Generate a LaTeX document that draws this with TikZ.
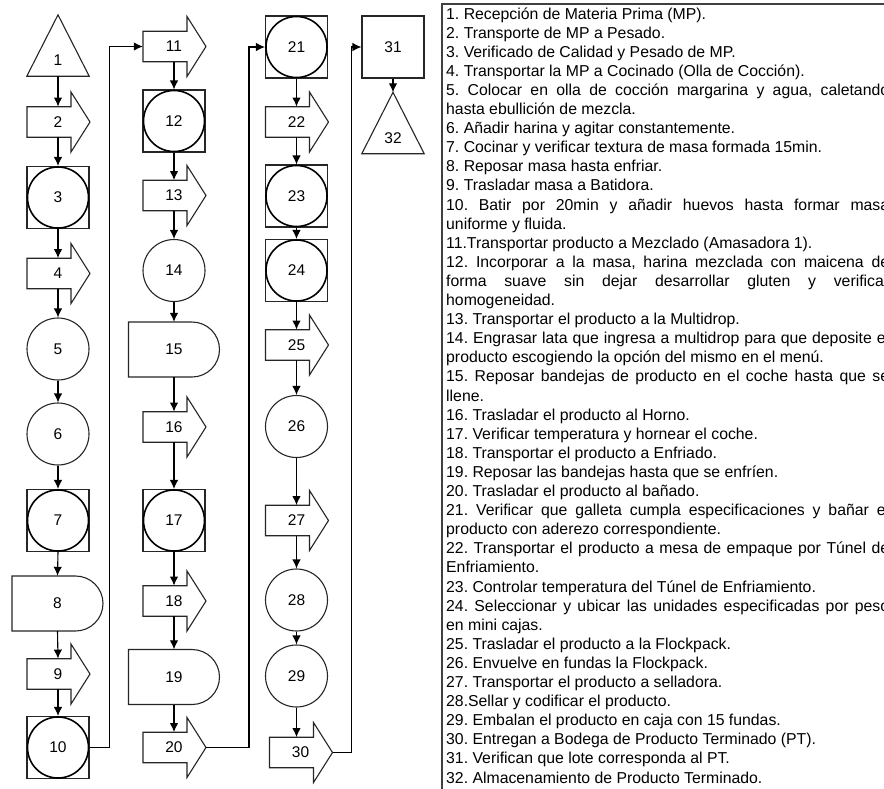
\documentclass[tikz,border=0pt]{standalone}
\usepackage{fontspec}
\setmainfont{Liberation Sans}
\usetikzlibrary{arrows.meta}

% transport step: arrow-shaped outline around a body-sized node
\newcommand{\transport}[3]{%
  \node[tbody] (#1) at (#2) {#3};
  \coordinate (#1-tip) at ([shift={(32,0)}]#1.center);
  \draw[outline] ([shift={(-31,-15.25)}]#1.center) -- ([shift={(13,-15.25)}]#1.center)
    -- ([shift={(13,-30)}]#1.center) -- (#1-tip) -- ([shift={(13,30)}]#1.center)
    -- ([shift={(13,15.25)}]#1.center) -- ([shift={(-31,15.25)}]#1.center) -- cycle;}
% delay step: D-shaped outline
\newcommand{\delaybox}[3]{%
  \node[dbody] (#1) at (#2) {#3};
  \draw[outline] ([shift={(-45.5,-27.5)}]#1.center) -- ([shift={(18,-27.5)}]#1.center)
    .. controls ([shift={(33.2,-27.5)}]#1.center) and ([shift={(45.5,-15.2)}]#1.center) .. ([shift={(45.5,0)}]#1.center)
    .. controls ([shift={(45.5,15.2)}]#1.center) and ([shift={(33.2,27.5)}]#1.center) .. ([shift={(18,27.5)}]#1.center)
    -- ([shift={(-45.5,27.5)}]#1.center) -- cycle;}
% combined operation + inspection: circle inside a square
\newcommand{\combo}[3]{%
  \node[sqnode] (#1) at (#2) {#3};
  \draw[line width=1.6pt] (#1.center) circle[radius=30.5];}
% storage: triangle
\newcommand{\storage}[3]{%
  \node[tribox] (#1) at (#2) {#3};
  \draw[outline] (#1.north) -- (#1.south east) -- (#1.south west) -- cycle;}

\begin{document}
\frenchspacing
\begin{tikzpicture}[x=1pt,y=-1pt,
  outline/.style={line width=1.1pt, draw=black!85},
  flow/.style={line width=1.1pt, -{Latex[length=9pt,width=8.5pt]}},
  lbl/.style={font=\fontsize{15.5}{18}\selectfont, inner sep=0},
  opnode/.style={lbl, circle, outline, minimum size=62},
  sqnode/.style={lbl, rectangle, outline, minimum size=62},
  tbody/.style={lbl, rectangle, minimum width=62, minimum height=30.5},
  dbody/.style={lbl, rectangle, minimum width=91, minimum height=55},
  tribox/.style={lbl, rectangle, minimum width=62, minimum height=61, text height=40, text depth=0},
]
\useasboundingbox (0,0) rectangle (884,788);
\clip (0,0) rectangle (884,788);
\fill[white] (0,0) rectangle (884,788);

% column 1
\storage{n1}{58,45.5}{1}
\transport{n2}{58,122}{2}
\combo{n3}{58,197.5}{3}
\transport{n4}{58,273.5}{4}
\node[opnode] (n5) at (58,349) {5};
\node[opnode] (n6) at (58,434) {6};
\combo{n7}{58,520.5}{7}
\delaybox{n8}{57.5,603.5}{8}
\transport{n9}{58,674}{9}
\combo{n10}{58,747.5}{10}

% column 2
\transport{n11}{174,46.5}{11}
\combo{n12}{174,121}{12}
\transport{n13}{174,195.5}{13}
\node[opnode] (n14) at (174,270.5) {14};
\delaybox{n15}{174,349.5}{15}
\transport{n16}{174,427}{16}
\combo{n17}{174,520.5}{17}
\transport{n18}{174,601}{18}
\delaybox{n19}{174,677}{19}
\transport{n20}{174,747.5}{20}

% column 3
\combo{n21}{296.5,47}{21}
\transport{n22}{296.5,122}{22}
\combo{n23}{296.5,196}{23}
\combo{n24}{296.5,270.5}{24}
\transport{n25}{296.5,345}{25}
\node[opnode] (n26) at (296.5,426.5) {26};
\transport{n27}{296.5,520.5}{27}
\node[opnode] (n28) at (296.5,600) {28};
\node[opnode] (n29) at (296.5,676) {29};
\transport{n30}{300.5,752.5}{30}

% column 4
\node[sqnode] (n31) at (393,47) {31};
\storage{n32}{393,123}{32}

% vertical flow
\foreach \a/\b in {n1/n2,n2/n3,n3/n4,n4/n5,n5/n6,n6/n7,n7/n8,n8/n9,n9/n10,
                   n11/n12,n12/n13,n13/n14,n14/n15,n15/n16,n16/n17,n17/n18,n18/n19,n19/n20,
                   n21/n22,n22/n23,n23/n24,n24/n25,n25/n26,n26/n27,n27/n28,n28/n29,n31/n32}
  \draw[flow] (\a.south) -- (\b.north);
\draw[flow] (n29.south) -- (n29.south |- n30.north);

% links between columns
\draw[flow] (n10.east) -- ++(20,0) |- (n11.west);
\draw[flow] (n20-tip) -- ++(43,0) |- (n21.west);
\draw[flow] (n30-tip) -- ++(19,0) |- (n31.west);

% legend panel
\draw[line width=1.4pt, draw=black!75] (442,4) rectangle (920,820);
\node[anchor=base west, inner sep=0] (legend) at (446,19) {\parbox[t]{443pt}{%
\fontsize{15.8}{19.1}\selectfont\raggedright\frenchspacing
1. Recepción de Materia Prima (MP).\\
2. Transporte de MP a Pesado.\\
3. Verificado de Calidad y Pesado de MP.\\
4. Transportar la MP a Cocinado (Olla de Cocción).\\
\makebox[\linewidth][s]{5. Colocar en olla de cocción margarina y agua, caletando}\\
hasta ebullición de mezcla.\\
6. Añadir harina y agitar constantemente.\\
7. Cocinar y verificar textura de masa formada 15min.\\
8. Reposar masa hasta enfriar.\\
9. Trasladar masa a Batidora.\\
\makebox[\linewidth][s]{10. Batir por 20min y añadir huevos hasta formar masa}\\
uniforme y fluida.\\
11.Transportar producto a Mezclado (Amasadora 1).\\
\makebox[\linewidth][s]{12. Incorporar a la masa, harina mezclada con maicena de}\\
\makebox[\linewidth][s]{forma suave sin dejar desarrollar gluten y verificar}\\
homogeneidad.\\
13. Transportar el producto a la Multidrop.\\
\makebox[\linewidth][s]{14. Engrasar lata que ingresa a multidrop para que deposite el}\\
producto escogiendo la opción del mismo en el menú.\\
\makebox[\linewidth][s]{15. Reposar bandejas de producto en el coche hasta que se}\\
llene.\\
16. Trasladar el producto al Horno.\\
17. Verificar temperatura y hornear el coche.\\
18. Transportar el producto a Enfriado.\\
19. Reposar las bandejas hasta que se enfríen.\\
20. Trasladar el producto al bañado.\\
\makebox[\linewidth][s]{21. Verificar que galleta cumpla especificaciones y bañar el}\\
producto con aderezo correspondiente.\\
\makebox[\linewidth][s]{22. Transportar el producto a mesa de empaque por Túnel de}\\
Enfriamiento.\\
23. Controlar temperatura del Túnel de Enfriamiento.\\
\makebox[\linewidth][s]{24. Seleccionar y ubicar las unidades especificadas por peso}\\
en mini cajas.\\
25. Trasladar el producto a la Flockpack.\\
26. Envuelve en fundas la Flockpack.\\
27. Transportar el producto a selladora.\\
28.Sellar y codificar el producto.\\
29. Embalan el producto en caja con 15 fundas.\\
30. Entregan a Bodega de Producto Terminado (PT).\\
31. Verifican que lote corresponda al PT.\\
32. Almacenamiento de Producto Terminado.}};
\end{tikzpicture}
\end{document}
